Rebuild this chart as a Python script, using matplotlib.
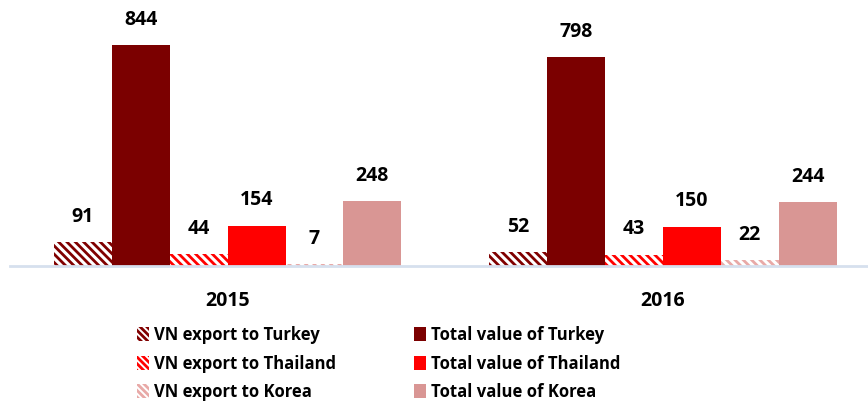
import numpy as np
import matplotlib.pyplot as plt
from matplotlib.patches import Patch

plt.rcParams['font.family'] = ['Open Sans', 'DejaVu Sans']
plt.rcParams['font.weight'] = 'bold'
plt.rcParams['hatch.linewidth'] = 2.0

years = ['2015', '2016']
vn_turkey = [91, 52]
total_turkey = [844, 798]
vn_thailand = [44, 43]
total_thailand = [154, 150]
vn_korea = [7, 22]
total_korea = [248, 244]

series = [
    ('VN export to Turkey', vn_turkey, '#800000', True),
    ('Total value of Turkey', total_turkey, '#7B0000', False),
    ('VN export to Thailand', vn_thailand, '#FF0000', True),
    ('Total value of Thailand', total_thailand, '#FF0000', False),
    ('VN export to Korea', vn_korea, '#E8A9A7', True),
    ('Total value of Korea', total_korea, '#D99694', False),
]

fig = plt.figure(figsize=(8.68, 4.04), dpi=100)
ax = fig.add_axes([0.0115, 0.342, 0.988, 0.658])

x = np.arange(len(years))
w = 0.133
handles = {}
for i, (name, vals, col, hatched) in enumerate(series):
    pos = x + (i - 2.5) * w
    if hatched:
        b = ax.bar(pos, vals, w, color='white', edgecolor=col, hatch='\\\\\\\\', linewidth=0)
        h = Patch(facecolor='white', edgecolor=col, hatch='\\\\\\\\\\', linewidth=0)
    else:
        b = ax.bar(pos, vals, w, color=col, linewidth=0)
        h = Patch(facecolor=col, linewidth=0)
    ax.bar_label(b, padding=11, fontsize=14, fontweight='bold')
    handles[name] = h

ax.set_xlim(-0.5, 1.47)
ax.set_ylim(0, 1016)
ax.set_xticks(x)
ax.set_xticklabels(years, fontsize=14, fontweight='bold')
ax.tick_params(axis='x', length=0, pad=18)
ax.set_yticks([])
for s in ['top', 'right', 'left']:
    ax.spines[s].set_visible(False)
ax.spines['bottom'].set_color('#D6E0EE')
ax.spines['bottom'].set_linewidth(2)

order = ['VN export to Turkey', 'VN export to Thailand', 'VN export to Korea',
         'Total value of Turkey', 'Total value of Thailand', 'Total value of Korea']
fig.legend([handles[k] for k in order], order, ncol=2, frameon=False,
           loc='lower left', bbox_to_anchor=(0.141, -0.03),
           fontsize=12, handlelength=0.7, handleheight=0.9, handletextpad=0.3,
           columnspacing=4.7, labelspacing=0.63)

fig.savefig('out.png', dpi=100)
